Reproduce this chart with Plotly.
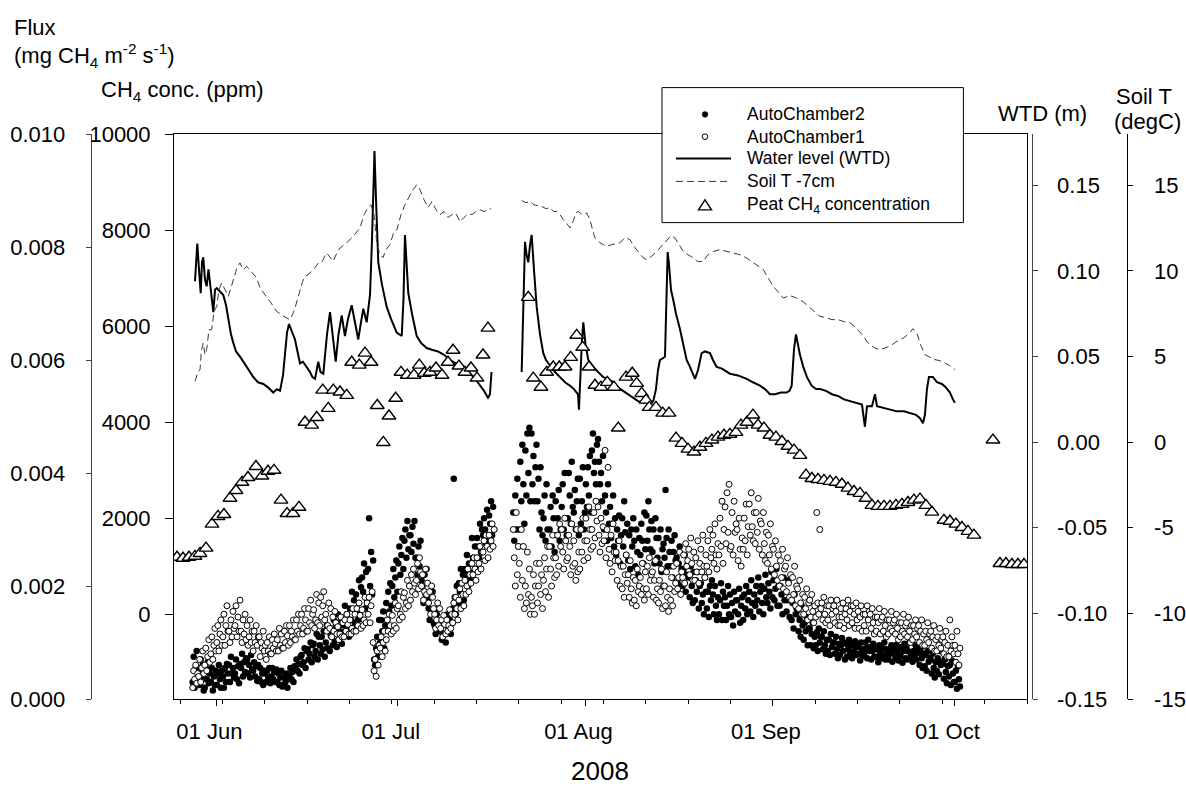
import numpy as np
import pandas as pd
import plotly.graph_objects as go

# ---------------- data ----------------
YEAR_START = pd.Timestamp("2008-01-01")

# Chamber CH4 flux, units of 1e-5 mg CH4 m-2 s-1, one value every 4 h (six values = one day)
flux_start_a = "2008-05-28 02:00"
flux_start_b = "2008-07-20 02:00"
ch2_flux_a = [
    30,75,20,55,85,40, 50,25,70,35,60,15, 20,55,35,65,28,45, 30,55,15,40,25,50,
    25,45,60,35,20,50, 40,20,55,30,62,45, 60,30,75,45,55,38, 45,70,35,58,28,62,
    55,80,40,65,48,72, 70,45,60,38,78,52, 50,65,40,58,32,60, 35,55,30,45,25,50,
    45,30,50,38,55,28, 40,55,35,48,30,52, 30,45,25,38,50,22, 25,40,30,45,20,35,
    40,55,35,48,30,58, 55,70,50,62,45,75, 78,60,65,90,55,85, 88,70,80,100,65,95,
    98,75,85,115,70,110, 95,80,110,88,120,75, 100,130,90,120,85,112, 110,95,140,102,130,92,
    150,105,120,140,98,132, 130,165,115,150,125,110, 160,140,190,125,175,135, 185,160,140,210,150,198,
    215,190,240,160,225,175, 230,320,200,260,185,245, 70,60,90,110,75,140, 100,140,120,155,90,130,
    170,140,190,155,205,165, 200,230,180,215,245,190, 240,270,220,255,285,230, 280,300,250,315,265,290,
    290,260,305,275,315,250, 250,220,270,235,280,210, 200,170,220,185,230,175, 160,140,180,150,190,135,
    130,115,150,125,160,120, 120,105,135,115,140,100, 130,150,120,140,115,155, 160,390,180,150,200,170,
    205,190,230,170,220,175, 230,220,255,200,240,210, 240,285,250,225,270,230, 285,270,250,310,260,300,
    290,320,300,275,335,280, 325,310,350,290,340,300]
ch1_flux_a = [
    20,50,35,60,28,45, 40,70,30,55,85,45, 60,90,50,75,105,65, 80,110,70,95,125,85,
    100,130,85,115,140,95, 110,150,95,130,165,120, 120,100,140,110,155,125, 130,165,110,145,120,175,
    120,100,140,115,150,105, 130,95,110,140,100,120, 85,120,100,130,95,110, 110,75,100,90,120,85,
    95,70,100,85,110,80, 80,105,90,115,98,85, 105,85,125,95,115,90, 90,120,100,130,112,95,
    130,100,120,110,140,105, 105,140,120,150,115,130, 150,115,125,160,140,120, 120,160,135,175,130,150,
    158,125,140,185,135,170, 130,180,145,165,190,140, 150,120,130,170,125,160, 110,145,120,155,135,115,
    128,105,115,145,110,135, 110,140,120,150,132,115, 140,115,125,160,120,150, 120,160,130,170,148,125,
    158,130,140,180,135,170, 150,180,135,165,190,100, 50,70,40,85,60,95, 90,110,75,100,120,85,
    105,140,120,150,130,115, 148,120,130,170,125,160, 165,140,150,190,145,180, 188,160,170,210,165,200,
    175,220,190,230,205,185, 210,240,195,250,225,200, 220,175,190,230,185,205, 170,190,150,200,180,160,
    150,125,140,170,130,160, 125,140,110,148,132,115, 140,120,130,158,125,150, 135,170,150,180,160,140,
    175,195,160,205,185,165, 210,185,200,230,190,220, 205,240,220,250,230,210, 250,225,240,270,230,260,
    260,280,245,290,270,250, 290,265,280,310,270,300]
ch2_flux_b = [
    330,280,360,300,390,270, 300,420,350,450,380,310, 440,360,470,400,480,350, 470,380,430,350,410,450,
    350,390,300,410,330,290, 320,360,280,380,300,270, 300,340,270,360,320,260, 350,290,320,370,280,300,
    340,380,300,400,320,290, 320,400,360,310,420,340, 330,370,300,350,390,290, 390,310,350,410,300,330,
    380,340,410,360,430,330, 440,470,400,420,380,450, 460,420,380,400,350,430, 300,360,330,280,380,310,
    340,285,310,360,270,320, 255,300,280,325,240,290, 320,270,350,295,255,310, 245,290,230,300,270,320,
    280,235,300,260,220,285, 255,310,280,240,330,265, 325,280,350,300,265,315, 260,300,240,320,285,250,
    285,240,300,225,265,275, 250,370,285,235,300,260, 235,280,215,260,290,245, 250,205,240,270,215,230,
    200,230,255,190,220,240, 215,180,235,200,170,225, 175,210,190,225,160,200, 205,170,185,150,215,190,
    160,190,145,200,175,210, 185,150,200,165,140,180, 150,175,205,140,190,165, 180,140,165,200,150,185,
    145,170,130,190,155,175, 175,150,195,135,165,180, 140,185,160,200,150,175, 190,155,210,170,145,185,
    165,200,175,215,155,190, 200,170,150,195,220,180, 170,205,190,160,225,180, 210,175,195,230,165,200,
    165,200,185,150,215,175, 190,155,175,210,145,180, 140,170,125,185,150,160, 150,120,140,110,165,130,
    105,135,120,145,95,125, 125,95,115,135,90,110, 95,118,85,125,100,110, 110,88,120,95,80,105,
    85,105,78,115,92,100, 100,80,110,88,72,98, 78,95,108,85,100,70, 98,75,88,105,80,95,
    72,95,85,102,78,92, 95,80,68,100,88,76, 80,100,90,72,105,85, 92,70,85,98,75,88,
    75,90,65,95,82,72, 90,78,100,70,88,80, 70,88,80,95,66,85, 88,74,96,82,68,90,
    76,92,64,85,98,72, 90,70,84,100,75,80, 66,85,78,95,70,88, 82,60,90,72,55,80,
    58,78,50,85,66,72, 70,45,80,55,38,65, 50,72,44,85,60,66, 62,36,70,48,28,58,
    40,60,25,68,45,30, 30,50,18,58,35,22]
ch1_flux_b = [
    300,250,200,330,220,270, 240,180,300,210,270,160, 200,170,260,185,230,150, 180,165,220,150,200,240,
    170,200,240,185,220,160, 210,250,190,230,270,180, 270,230,200,290,250,215, 250,220,290,235,310,270,
    300,260,230,320,280,245, 250,290,270,220,310,235, 280,240,210,300,225,260, 230,300,260,320,245,280,
    320,280,250,340,300,265, 300,270,330,285,350,315, 340,290,260,320,275,305, 280,440,250,300,410,265,
    240,290,225,310,260,245, 260,210,245,280,200,235, 195,235,180,220,255,205, 220,180,245,195,170,215,
    175,210,165,230,190,200, 215,185,240,195,175,225, 195,235,185,250,210,220, 225,180,210,245,175,195,
    170,210,190,230,160,200, 200,165,225,180,155,195, 175,215,165,235,190,205, 240,195,215,260,185,225,
    215,255,205,275,235,245, 265,220,285,240,210,260, 210,250,225,280,205,240, 265,225,290,235,215,255,
    235,280,225,300,250,265, 290,240,310,255,230,275, 255,320,270,350,240,300, 340,275,365,295,380,265,
    270,330,255,350,295,310, 300,245,320,265,235,285, 265,320,280,345,255,305, 345,290,365,305,280,330,
    275,330,295,355,265,315, 310,255,330,275,245,295, 240,290,255,310,230,270, 265,220,280,235,210,255,
    200,245,215,265,195,230, 235,190,250,205,180,220, 175,215,185,235,165,200, 195,160,210,170,150,185,
    150,180,160,195,140,170, 175,145,185,155,135,165, 145,330,170,150,300,160, 170,140,180,150,135,165,
    140,165,130,175,150,160, 165,135,155,175,130,145, 130,160,145,170,125,150, 160,140,175,130,155,165,
    135,165,150,125,170,140, 155,125,145,165,120,150, 130,150,120,165,140,155, 150,125,160,135,115,145,
    120,145,135,160,115,140, 145,120,155,130,110,140, 115,140,125,155,120,135, 140,115,150,125,105,135,
    110,135,120,150,115,130, 135,110,145,120,100,130, 105,130,115,140,110,125, 130,100,120,140,95,115,
    95,120,105,135,100,115, 120,90,110,130,85,105, 85,110,95,125,90,105, 110,80,100,120,75,95,
    75,140,85,110,95,80, 95,65,120,80,60,90]

# Water table depth (m), day of year
wtd_doy_a = [149.47,149.85,150.13,150.41,150.63,150.84,151.12,151.40,151.70,151.95,
             152.20,152.50,152.78,153.06,153.60,154.15,154.60,154.98,155.42,155.80,
             156.25,156.91,157.40,158.02,158.56,159.11,159.88,160.76,161.54,162.41,
             163.02,163.52,164.02,164.35,164.68,165.01,165.50,166.00,166.41,166.83,
             167.32,167.93,168.48,168.89,169.31,169.85,170.21,170.68,171.29,171.79,
             172.28,172.73,173.19,173.72,174.26,174.76,175.37,175.92,176.46,176.91,
             177.29,177.85,178.40,178.73,178.98,179.14,179.39,179.77,180.38,181.16,
             181.87,182.81,183.64,183.93,184.18,184.43,184.73,185.34,186.12,186.83,
             187.77,188.64,189.64,190.63,191.62,192.61,193.60,194.60,195.59,196.41,
             197.24,197.90,198.23,198.48]
wtd_a = [0.094,0.116,0.101,0.087,0.105,0.108,0.095,0.091,0.101,0.093,
         0.086,0.076,0.089,0.090,0.088,0.086,0.080,0.072,0.063,0.058,
         0.053,0.050,0.047,0.044,0.041,0.038,0.035,0.034,0.032,0.029,
         0.031,0.030,0.039,0.054,0.064,0.069,0.065,0.060,0.053,0.046,
         0.047,0.044,0.041,0.038,0.037,0.047,0.041,0.040,0.063,0.076,
         0.060,0.047,0.063,0.074,0.062,0.072,0.080,0.069,0.060,0.070,
         0.078,0.070,0.086,0.118,0.159,0.170,0.142,0.105,0.092,0.079,
         0.072,0.064,0.062,0.083,0.121,0.107,0.087,0.075,0.062,0.058,
         0.055,0.054,0.053,0.051,0.048,0.046,0.044,0.041,0.038,0.034,
         0.030,0.026,0.028,0.041]
wtd_doy_b = [203.47,203.69,204.02,204.26,204.56,204.84,205.12,205.50,205.95,206.50,
             207.04,207.49,208.15,208.98,209.80,210.63,211.46,212.12,212.56,212.78,
             212.94,213.22,213.44,213.66,214.02,214.49,215.32,216.10,216.96,217.74,
             218.61,219.39,220.27,221.04,221.92,222.70,223.57,224.35,225.23,225.67,
             226.00,226.33,226.83,227.16,227.40,227.60,227.82,228.15,228.53,228.98,
             229.64,230.13,230.74,231.29,232.12,232.61,233.22,233.77,234.60,235.09,
             235.70,236.58,237.90,239.22,240.66,241.70,242.86,243.69,244.51,245.34,
             246.33,247.27,247.74,248.10,248.48,248.81,249.14,249.47,250.02,250.63,
             251.40,252.12,252.78,253.77,254.76,255.75,256.74,257.74,258.73,259.72,
             260.21,260.55,261.37,261.87,262.20,263.19,264.35,265.50,266.66,267.65,
             268.64,269.31,269.80,270.13,270.46,270.79,271.45,272.12,272.94,273.60,
             274.26,274.76,275.09]
wtd_b = [0.041,0.077,0.117,0.110,0.105,0.115,0.121,0.101,0.079,0.063,
         0.052,0.048,0.045,0.041,0.038,0.035,0.033,0.031,0.029,0.028,
         0.019,0.044,0.060,0.070,0.057,0.048,0.044,0.041,0.038,0.037,
         0.035,0.032,0.030,0.028,0.026,0.024,0.023,0.023,0.024,0.031,
         0.042,0.048,0.049,0.050,0.083,0.111,0.104,0.089,0.083,0.075,
         0.066,0.057,0.048,0.044,0.037,0.042,0.052,0.053,0.052,0.048,
         0.044,0.043,0.040,0.039,0.037,0.035,0.033,0.031,0.028,0.028,
         0.029,0.029,0.030,0.033,0.054,0.063,0.057,0.051,0.044,0.038,
         0.033,0.031,0.031,0.030,0.028,0.027,0.025,0.024,0.023,0.022,
         0.009,0.021,0.021,0.028,0.021,0.020,0.019,0.018,0.018,0.017,
         0.016,0.014,0.011,0.016,0.031,0.038,0.038,0.035,0.034,0.032,
         0.029,0.025,0.023]

# Soil temperature at -7 cm (degC), day of year
soil_doy_a = [149.47,149.97,150.30,150.54,150.84,151.12,151.40,151.78,152.23,152.61,
              153.06,153.44,153.88,154.43,154.98,155.42,155.80,156.41,156.91,157.40,
              158.02,158.73,159.67,160.21,160.76,161.37,161.87,162.36,162.97,163.52,
              164.07,164.51,165.17,165.67,166.00,166.41,166.83,167.24,167.65,168.15,
              168.76,169.31,169.85,170.46,171.24,171.79,172.33,172.86,173.44,173.94,
              174.55,175.09,175.64,176.26,176.76,177.42,178.07,178.56,179.06,179.55,
              180.05,180.55,181.04,181.70,182.36,182.86,183.52,184.18,184.84,185.50,
              186.16,186.66,187.32,187.98,188.64,189.31,189.97,190.63,191.29,191.95,
              192.61,193.27,193.93,194.60,195.26,195.92,196.58,197.24,197.90,198.40]
soil_a = [3.55,4.12,4.23,5.40,5.79,5.11,5.40,6.57,6.57,7.62,
          7.93,8.91,9.30,8.91,8.52,9.02,9.49,10.19,10.47,10.08,
          10.27,9.96,9.59,9.02,8.72,8.44,8.22,7.97,7.64,7.51,
          7.35,7.27,7.16,7.51,7.84,8.32,8.91,9.37,9.68,9.78,
          9.98,10.19,10.47,10.54,11.05,10.78,10.56,11.01,11.34,11.48,
          11.64,11.83,12.02,12.30,12.53,13.29,13.70,13.87,13.29,11.54,
          10.96,10.78,11.25,11.54,12.30,12.42,13.29,13.87,14.34,14.75,
          15.04,14.75,14.17,13.70,14.05,13.58,13.29,13.47,13.12,13.29,
          13.35,12.88,13.12,13.35,13.29,13.47,13.58,13.47,13.58,13.64]
soil_doy_b = [203.47,204.18,204.84,205.50,206.17,206.83,207.49,208.15,208.69,209.31,
              209.80,210.35,210.96,211.46,211.95,212.45,212.83,213.44,214.21,214.76,
              215.26,215.59,216.41,217.52,218.40,219.72,220.55,221.37,222.20,223.03,
              223.52,224.13,224.68,225.79,226.66,227.44,228.15,228.81,229.47,230.19,
              230.96,231.84,232.61,233.49,234.26,235.14,236.25,237.36,238.40,239.55,
              240.55,241.75,242.53,243.41,244.18,245.06,245.84,246.72,247.82,248.93,
              249.97,251.13,251.95,252.78,253.77,254.76,255.75,256.74,257.74,258.73,
              259.72,260.71,261.70,262.69,263.69,264.68,265.67,266.66,267.65,268.15,
              268.81,269.47,270.13,270.96,271.79,272.61,273.44,274.26,275.09]
soil_b = [14.11,13.99,14.05,13.87,13.81,13.76,13.64,13.70,13.48,13.46,
          13.29,13.00,12.76,12.51,12.88,13.40,13.48,13.29,13.39,13.00,
          12.30,11.93,11.65,11.44,11.54,11.64,11.95,11.83,11.36,10.95,
          10.78,10.66,10.78,11.14,11.48,11.73,12.06,11.93,11.54,11.14,
          10.95,10.76,10.54,10.56,10.95,11.14,11.24,11.14,11.07,10.95,
          10.78,10.47,10.31,10.08,9.61,9.10,8.79,8.42,8.56,8.42,
          8.21,7.84,7.62,7.35,7.27,7.16,7.16,7.04,6.98,6.69,
          6.28,5.81,5.52,5.40,5.52,5.69,5.93,6.10,6.40,6.63,
          6.34,5.64,5.11,4.94,4.82,4.76,4.59,4.47,4.23]

# Peat CH4 concentration (ppm), day of year
peat_doy = [146.50,147.49,148.48,149.47,150.30,151.29,152.28,153.27,154.26,155.26,
            156.25,157.24,158.23,159.55,160.55,161.54,162.53,163.69,164.68,165.67,
            166.66,167.65,168.76,169.59,170.58,171.50,172.33,173.44,174.55,175.37,
            176.63,177.57,178.56,179.60,180.60,181.54,182.64,183.52,184.56,185.67,
            186.55,187.37,188.31,189.31,190.30,191.29,192.12,193.11,194.10,195.09,
            196.08,197.07,197.90,
            204.56,205.39,206.66,207.60,208.69,209.69,210.63,211.57,212.56,213.55,
            214.60,215.59,216.58,217.62,218.73,219.44,220.71,221.75,222.48,223.31,
            224.02,224.56,225.67,226.78,227.82,228.98,229.97,230.96,231.95,232.94,
            233.93,234.92,235.92,236.91,237.90,238.89,239.72,240.71,241.70,242.53,
            243.52,244.51,245.50,246.50,247.49,248.48,249.47,250.46,251.45,252.45,
            253.44,254.43,255.42,256.41,257.40,258.40,259.39,260.38,261.37,262.36,
            263.36,264.35,265.34,266.33,267.32,268.31,269.31,270.30,271.29,273.27,
            274.26,275.26,276.25,277.24,278.23,281.37,282.53,283.52,284.51,285.50,
            286.50]
peat_ppm = [1190,1170,1190,1210,1270,1380,1880,2040,2080,2420,
            2580,2750,2850,3080,2880,2980,3000,2380,2100,2100,
            2230,4000,3940,4100,4670,4290,4670,4630,4560,5250,
            5190,5440,5250,4350,3580,4130,4500,5040,4980,4980,
            5190,5020,5040,5130,4980,5250,5500,5170,5040,5130,
            4920,5400,5960,
            6600,4920,4730,5040,5150,5150,5150,5350,5810,5560,
            5150,4770,4730,4830,4730,3880,4940,5020,4810,4600,
            4460,4310,4310,4190,4190,3670,3560,3440,3380,3480,
            3560,3630,3690,3730,3750,3790,3940,4000,4150,3940,
            3880,3730,3690,3600,3500,3420,3310,2900,2830,2810,
            2790,2770,2750,2710,2630,2560,2520,2420,2270,2250,
            2250,2250,2270,2290,2330,2380,2400,2270,2130,1960,
            1940,1880,1810,1730,1650,3630,1060,1060,1040,1040,
            1040]

# axis ticks
month_tick_dates = ["2008-06-01", "2008-07-01", "2008-08-01", "2008-09-01", "2008-10-01"]
month_tick_labels = ["01 Jun", "01 Jul", "01 Aug", "01 Sep", "01 Oct"]
flux_ticks = [0.000, 0.002, 0.004, 0.006, 0.008, 0.010]
flux_labels = ["0.000", "0.002", "0.004", "0.006", "0.008", "0.010"]
conc_ticks = [0, 2000, 4000, 6000, 8000, 10000]
conc_labels = ["0", "2000", "4000", "6000", "8000", "10000"]
wtd_ticks = [-0.15, -0.10, -0.05, 0.00, 0.05, 0.10, 0.15]
wtd_labels = ["-0.15", "-0.10", "-0.05", "0.00", "0.05", "0.10", "0.15"]
soil_ticks = [-15, -10, -5, 0, 5, 10, 15]
soil_labels = ["-15", "-10", "-5", "0", "5", "10", "15"]

# ---------------- helpers ----------------
def doy_to_date(doy):
    return YEAR_START + pd.to_timedelta(np.asarray(doy, dtype=float) - 1.0, unit="D")

def join_segments(xa, ya, xb, yb):
    x = list(xa) + [None] + list(xb)
    y = list(ya) + [None] + list(yb)
    return x, y

def flux_series(vals_a, vals_b):
    ta = pd.date_range(flux_start_a, periods=len(vals_a), freq="4h")
    tb = pd.date_range(flux_start_b, periods=len(vals_b), freq="4h")
    x = list(ta) + [None] + list(tb)
    y = [v * 1e-5 for v in vals_a] + [None] + [v * 1e-5 for v in vals_b]
    return x, y

FIG_W, FIG_H = 1186, 787
M_L, M_R, M_T, M_B = 60, 40, 134, 88
PLOT_W = FIG_W - M_L - M_R
PLOT_H = FIG_H - M_T - M_B

def px(x):
    return (x - M_L) / PLOT_W

def py(y):
    return (FIG_H - M_B - y) / PLOT_H

FONT = "Liberation Sans, Arial, Helvetica, sans-serif"

# ---------------- figure ----------------
fig = go.Figure()

t2, f2 = flux_series(ch2_flux_a, ch2_flux_b)
t1, f1 = flux_series(ch1_flux_a, ch1_flux_b)

fig.add_trace(go.Scatter(x=t2, y=f2, mode="markers", yaxis="y", name="AutoChamber2",
                         marker=dict(symbol="circle", size=6.5, color="black",
                                     line=dict(width=0))))
fig.add_trace(go.Scatter(x=t1, y=f1, mode="markers", yaxis="y", name="AutoChamber1",
                         marker=dict(symbol="circle", size=6, color="white",
                                     line=dict(color="black", width=1))))

wx, wy = join_segments(doy_to_date(wtd_doy_a), wtd_a, doy_to_date(wtd_doy_b), wtd_b)
fig.add_trace(go.Scatter(x=wx, y=wy, mode="lines", yaxis="y2", name="Water level (WTD)",
                         line=dict(color="black", width=2)))

sx, sy = join_segments(doy_to_date(soil_doy_a), soil_a, doy_to_date(soil_doy_b), soil_b)
fig.add_trace(go.Scatter(x=sx, y=sy, mode="lines", yaxis="y3", name="Soil T -7cm",
                         line=dict(color="#3a3a3a", width=1, dash="7px,4px")))

fig.add_trace(go.Scatter(x=doy_to_date(peat_doy), y=peat_ppm, mode="markers", yaxis="y4",
                         name="Peat CH4 concentration",
                         marker=dict(symbol="triangle-up", size=12, color="white",
                                     line=dict(color="black", width=1.4))))

tickfont = dict(family=FONT, size=22, color="black")

fig.update_layout(
    width=FIG_W, height=FIG_H,
    margin=dict(l=M_L, r=M_R, t=M_T, b=M_B),
    template="none",
    paper_bgcolor="white", plot_bgcolor="white",
    showlegend=False,
    font=dict(family=FONT, color="black"),
    xaxis=dict(
        domain=[px(174), px(1027)], type="date",
        range=[doy_to_date(146), doy_to_date(287)],
        anchor="y", showline=True, linecolor="black", linewidth=1, mirror=True,
        showgrid=False, zeroline=False,
        tickmode="array", tickvals=month_tick_dates, ticktext=month_tick_labels,
        ticks="outside", ticklen=6, tickwidth=1, tickcolor="black",
        tickfont=tickfont, ticklabelshift=-7, ticklabelstandoff=7,
        minor=dict(ticks="outside", ticklen=4, tickwidth=1, tickcolor="black",
                   tick0="2008-05-26", dtick=7 * 24 * 3600 * 1000, showgrid=False),
    ),
    yaxis=dict(
        anchor="free", position=px(90.7), side="left",
        range=[0, 0.010], showgrid=False, zeroline=False,
        showline=True, linecolor="#444444", linewidth=1,
        tickmode="array", tickvals=flux_ticks, ticktext=flux_labels,
        ticks="outside", ticklen=5, tickcolor="#444444", tickfont=tickfont,
        ticklabelstandoff=16,
    ),
    yaxis2=dict(
        overlaying="y", anchor="free", position=px(1031.7), side="right",
        range=[-0.15, 0.18], showgrid=False, zeroline=False,
        showline=True, linecolor="#444444", linewidth=1,
        tickmode="array", tickvals=wtd_ticks, ticktext=wtd_labels,
        ticks="outside", ticklen=5, tickcolor="#444444", tickfont=tickfont,
        ticklabelstandoff=15,
    ),
    yaxis3=dict(
        overlaying="y", anchor="free", position=px(1126.7), side="right",
        range=[-15, 18], showgrid=False, zeroline=False,
        showline=True, linecolor="black", linewidth=1,
        tickmode="array", tickvals=soil_ticks, ticktext=soil_labels,
        ticks="outside", ticklen=5, tickcolor="black", tickfont=tickfont,
        ticklabelstandoff=17,
    ),
    yaxis4=dict(
        overlaying="y", anchor="x", side="left",
        range=[-1760, 10000], showgrid=False, zeroline=False,
        showline=True, linecolor="black", linewidth=1, mirror=True,
        tickmode="array", tickvals=conc_ticks, ticktext=conc_labels,
        ticks="outside", ticklen=8, tickcolor="black", tickfont=tickfont,
        ticklabelstandoff=10,
    ),
)

# ---------------- axis titles ----------------
title_font = dict(family=FONT, size=22, color="black")
titles = [
    ("Flux", 12, 27, "left"),
    ("(mg CH<sub>4</sub> m<sup>-2</sup> s<sup>-1</sup>)", 12, 56, "left"),
    ("CH<sub>4</sub> conc. (ppm)", 99, 91, "left"),
    ("WTD (m)", 996, 113, "left"),
    ("Soil T", 1114, 96, "left"),
    ("(degC)", 1112, 121, "left"),
]
annotations = []
for text, x, y, anc in titles:
    annotations.append(dict(text=text, x=px(x), y=py(y), xref="paper", yref="paper",
                            xanchor=anc, yanchor="middle", showarrow=False, font=title_font))
annotations.append(dict(text="2008", x=px(600), y=py(771), xref="paper", yref="paper",
                        xanchor="center", yanchor="middle", showarrow=False,
                        font=dict(family=FONT, size=26, color="black")))

# ---------------- legend (drawn box) ----------------
legend_labels = ["AutoChamber2", "AutoChamber1", "Water level (WTD)", "Soil T -7cm",
                 "Peat CH<sub>4</sub> concentration"]
legend_rows = [114.4, 136.7, 158.4, 181.4, 205.4]
sym_x = 705
shapes = [dict(type="rect", xref="paper", yref="paper", x0=px(662), x1=px(963.4),
               y0=py(222.6), y1=py(87.6), line=dict(color="black", width=1),
               fillcolor="white", layer="above")]
r = 2.8
shapes.append(dict(type="circle", xref="paper", yref="paper",
                   x0=px(sym_x - r), x1=px(sym_x + r),
                   y0=py(legend_rows[0] + r), y1=py(legend_rows[0] - r),
                   fillcolor="black", line=dict(color="black", width=0.5), layer="above"))
shapes.append(dict(type="circle", xref="paper", yref="paper",
                   x0=px(sym_x - r), x1=px(sym_x + r),
                   y0=py(legend_rows[1] + r), y1=py(legend_rows[1] - r),
                   fillcolor="white", line=dict(color="black", width=1), layer="above"))
shapes.append(dict(type="line", xref="paper", yref="paper",
                   x0=px(676), x1=px(731), y0=py(legend_rows[2]), y1=py(legend_rows[2]),
                   line=dict(color="black", width=2), layer="above"))
shapes.append(dict(type="line", xref="paper", yref="paper",
                   x0=px(676), x1=px(731), y0=py(legend_rows[3]), y1=py(legend_rows[3]),
                   line=dict(color="#3a3a3a", width=1, dash="7px,4px"), layer="above"))
ty = legend_rows[4]
shapes.append(dict(type="path", xref="paper", yref="paper",
                   path=f"M {px(sym_x - 6.5)},{py(ty + 4.5)} L {px(sym_x + 6.5)},{py(ty + 4.5)} "
                        f"L {px(sym_x)},{py(ty - 5.5)} Z",
                   fillcolor="white", line=dict(color="black", width=1.4), layer="above"))
for lab, yy in zip(legend_labels, legend_rows):
    annotations.append(dict(text=lab, x=px(744.5), y=py(yy), xref="paper", yref="paper",
                            xanchor="left", yanchor="middle", showarrow=False,
                            font=dict(family=FONT, size=17.5, color="black")))

fig.update_layout(annotations=annotations, shapes=shapes)

fig.write_html("out.html")
